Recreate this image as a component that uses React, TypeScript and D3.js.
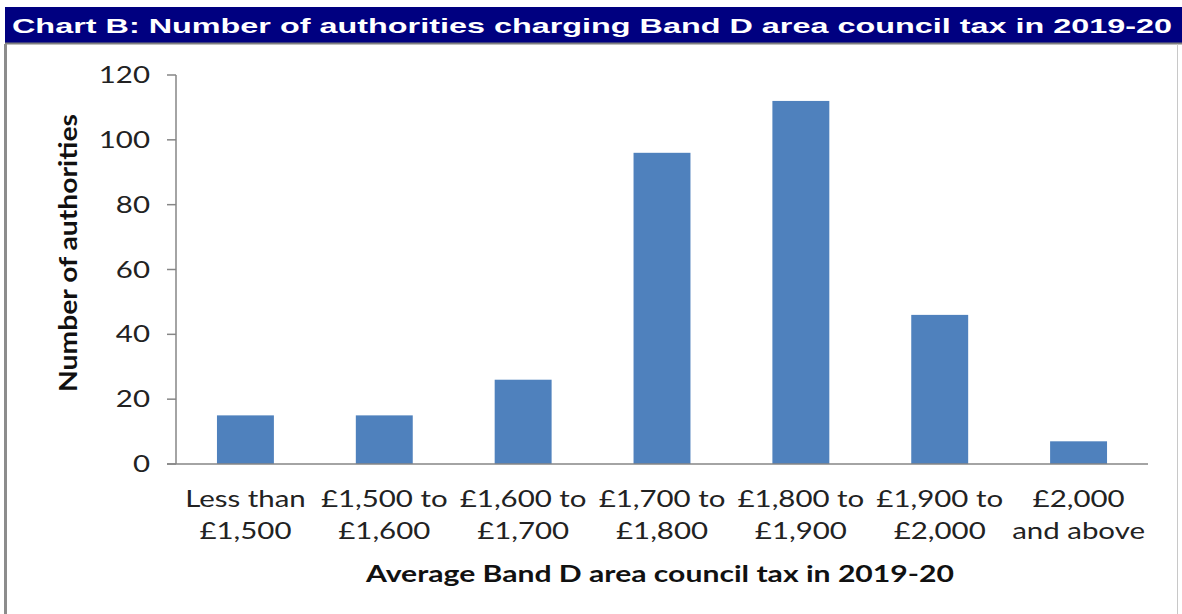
import React from "react";
import * as d3 from "d3";

const categories: string[][] = [
  ["Less than", "£1,500"],
  ["£1,500 to", "£1,600"],
  ["£1,600 to", "£1,700"],
  ["£1,700 to", "£1,800"],
  ["£1,800 to", "£1,900"],
  ["£1,900 to", "£2,000"],
  ["£2,000", "and above"],
];
const values: number[] = [15, 15, 26, 96, 112, 46, 7];
const yTicks: number[] = [0, 20, 40, 60, 80, 100, 120];
const title = "Chart B: Number of authorities charging Band D area council tax in 2019-20";
const yTitle = "Number of authorities";
const xTitle = "Average Band D area council tax in 2019-20";

const W = 1182;
const H = 614;
const plot = { left: 176, right: 1148, top: 75, bottom: 464 };
const labelFont = "Lato, 'Open Sans', sans-serif";
const stretch = 1.28;

export default function App() {
  const x = d3
    .scaleBand<number>()
    .domain(values.map((_, i) => i))
    .range([plot.left, plot.right])
    .paddingInner(0.59)
    .paddingOuter(0.295);
  const y = d3.scaleLinear().domain([0, 120]).range([plot.bottom, plot.top]);
  const bandStep = (plot.right - plot.left) / values.length;

  return (
    <svg
      width={W}
      height={H}
      style={{ position: "absolute", left: 0, top: 0, background: "#fff" }}
    >
      {/* title bar */}
      <rect x={5} y={7} width={W - 5} height={36} fill="#000080" />
      <line x1={5} x2={W} y1={43.5} y2={43.5} stroke="#7f7f7f" strokeWidth={2} />
      <text
        x={12}
        y={33}
        fill="#fff"
        fontFamily="'Liberation Sans', Arial, sans-serif"
        fontWeight="bold"
        fontSize={21}
        textLength={1160}
        lengthAdjust="spacingAndGlyphs"
      >
        {title}
      </text>
      {/* frame */}
      <line x1={5.5} x2={5.5} y1={44} y2={H} stroke="#8c8c8c" strokeWidth={3} />
      <line x1={1177.5} x2={1177.5} y1={44} y2={H} stroke="#c8c8c8" strokeWidth={1} />

      {/* bars */}
      {values.map((v, i) => (
        <rect
          key={i}
          x={x(i)!}
          y={y(v)}
          width={x.bandwidth()}
          height={y(0) - y(v)}
          fill="#4F81BD"
        />
      ))}

      {/* y axis */}
      <line x1={plot.left} x2={plot.left} y1={plot.top} y2={plot.bottom} stroke="#868686" strokeWidth={1.5} />
      {yTicks.map((t) => (
        <g key={t}>
          <line x1={plot.left - 9} x2={plot.left} y1={y(t)} y2={y(t)} stroke="#868686" strokeWidth={1.5} />
          <text
            transform={`translate(150,${y(t)}) scale(${stretch},1)`}
            dy="0.35em"
            textAnchor="end"
            fontFamily={labelFont}
            fontSize={23}
            fill="#222"
          >
            {t}
          </text>
        </g>
      ))}
      {/* x axis */}
      <line x1={plot.left - 9} x2={plot.right} y1={plot.bottom} y2={plot.bottom} stroke="#868686" strokeWidth={1.5} />

      {/* x labels */}
      {categories.map((lines, i) => {
        const cx = plot.left + bandStep * (i + 0.5);
        return (
          <text
            key={i}
            transform={`translate(${cx},0) scale(${stretch},1)`}
            textAnchor="middle"
            fontFamily={labelFont}
            fontSize={23}
            fill="#222"
          >
            {lines.map((ln, j) => (
              <tspan key={j} x={0} y={507 + j * 32}>
                {ln}
              </tspan>
            ))}
          </text>
        );
      })}

      {/* axis titles */}
      <text
        x={660}
        y={582}
        textAnchor="middle"
        fontFamily={labelFont}
        fontWeight="bold"
        fontSize={22}
        fill="#111"
        textLength={588}
        lengthAdjust="spacingAndGlyphs"
      >
        {xTitle}
      </text>
      <text
        transform="translate(77,253) rotate(-90)"
        textAnchor="middle"
        fontFamily={labelFont}
        fontWeight="bold"
        fontSize={25}
        fill="#111"
        textLength={278}
        lengthAdjust="spacingAndGlyphs"
      >
        {yTitle}
      </text>
    </svg>
  );
}
